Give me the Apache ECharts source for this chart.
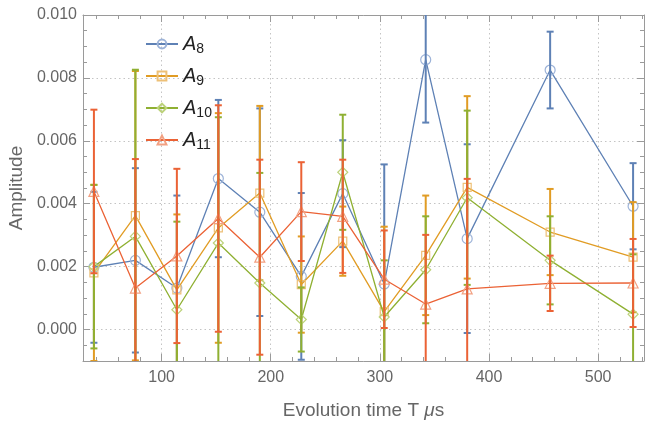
<!DOCTYPE html>
<html>
<head>
<meta charset="utf-8">
<script src="https://cdn.jsdelivr.net/npm/echarts@6/dist/echarts.min.js"></script>
<style>html,body{margin:0;padding:0;background:#fff}#c{width:654px;height:421px}</style>
</head>
<body>
<div id="c"></div>
<script>
// ---- data ----
const seriesNames = ['A8', 'A9', 'A10', 'A11'];
const xValues = [38, 76, 114, 152, 190, 228, 266, 304, 342, 380, 456, 532];
const a8    = [0.00198, 0.0022, 0.00132, 0.0048, 0.00373, 0.00169, 0.00432, 0.00145, 0.00858, 0.00289, 0.00825, 0.00392];
const a8Err = [0.0024, 0.00293, 0.00294, 0.0025, 0.0033, 0.00265, 0.0017, 0.0038, 0.002, 0.003, 0.00122, 0.00137];
const a9    = [0.0018, 0.00362, 0.00126, 0.00323, 0.00434, 0.00143, 0.00281, 0.00057, 0.00236, 0.00452, 0.0031, 0.0023];
const a9Err = [0.0028, 0.0046, 0.0024, 0.00365, 0.00277, 0.00153, 0.0011, 0.0027, 0.0019, 0.0029, 0.00137, 0.00175];
const a10    = [0.0020, 0.00296, 0.00063, 0.00275, 0.00148, 0.00032, 0.005, 0.0004, 0.0019, 0.00419, 0.0022, 0.00049];
const a10Err = [0.0026, 0.0053, 0.0028, 0.004, 0.0035, 0.00102, 0.00183, 0.0018, 0.0017, 0.00277, 0.0014, 0.0019];
const a11    = [0.00439, 0.00132, 0.00234, 0.00353, 0.0023, 0.00375, 0.0036, 0.0016, 0.00081, 0.00129, 0.00147, 0.00148];
const a11Err = [0.0026, 0.0041, 0.00277, 0.0036, 0.0031, 0.00157, 0.0018, 0.00155, 0.0022, 0.0035, 0.00088, 0.0014];
const xTitle = 'Evolution time T {i|\u03bc}s';
const yTitle = 'Amplitude';

// ---- styling ----
const lineColors = ['#5E81B5', '#E19C24', '#8FB032', '#EB6235'];
const markColors = ['#9DB3D8', '#EDC077', '#BCD27A', '#F2A183'];
const symbols = ['circle', 'rect', 'diamond', 'triangle'];
const symbolSizes = [10, 8, 10, 10];
const values = [a8, a9, a10, a11];
const errs = [a8Err, a9Err, a10Err, a11Err];

function errRenderer(color) {
  return function (params, api) {
    const x = api.value(0), lo = api.value(1), hi = api.value(2);
    const p1 = api.coord([x, lo]), p2 = api.coord([x, hi]);
    const w = 3.5;
    const style = { stroke: color, lineWidth: 2, fill: null };
    return {
      type: 'group',
      children: [
        { type: 'line', shape: { x1: p1[0], y1: p1[1], x2: p2[0], y2: p2[1] }, style: style },
        { type: 'line', shape: { x1: p1[0] - w, y1: p1[1], x2: p1[0] + w, y2: p1[1] }, style: style },
        { type: 'line', shape: { x1: p2[0] - w, y1: p2[1], x2: p2[0] + w, y2: p2[1] }, style: style }
      ]
    };
  };
}

const series = [];
seriesNames.forEach(function (name, k) {
  series.push({
    name: name,
    type: 'line',
    data: xValues.map(function (x, i) { return [x, values[k][i]]; }),
    symbol: symbols[k],
    symbolSize: symbolSizes[k],
    showAllSymbol: true,
    lineStyle: { color: lineColors[k], width: 1.3 },
    itemStyle: { color: 'rgba(0,0,0,0)', borderColor: markColors[k], borderWidth: 1.2 },
    emphasis: { disabled: true },
    animation: false,
    z: 2 + k * 2
  });
  series.push({
    name: name + ' err',
    type: 'custom',
    clip: true,
    renderItem: errRenderer(lineColors[k]),
    encode: { x: 0, y: [1, 2] },
    data: xValues.map(function (x, i) { return [x, values[k][i] - errs[k][i], values[k][i] + errs[k][i]]; }),
    animation: false,
    silent: true,
    z: 3 + k * 2
  });
});

const frameColor = '#9a9a9a';
const labelColor = '#666';
const fontFam = '"Liberation Sans", Arial, sans-serif';

function xAx(pos, show) {
  return {
    type: 'value', position: pos, min: 28, max: 542, splitNumber: 5,
    axisLine: { show: true, onZero: false, lineStyle: { color: frameColor, width: 1 } },
    axisTick: { show: true, inside: true, length: 7, lineStyle: { color: frameColor } },
    minorTick: { show: true, splitNumber: 5, length: 4, lineStyle: { color: frameColor } },
    axisLabel: { show: show, showMinLabel: false, showMaxLabel: false, color: labelColor, fontSize: 16, fontFamily: fontFam, margin: 9 },
    splitLine: { show: show, lineStyle: { color: '#c4c4c4', type: [1.5, 3], width: 1 } },
    name: show ? xTitle : '', nameLocation: 'middle', nameGap: 40,
    nameTextStyle: { color: labelColor, fontSize: 19, fontFamily: fontFam,
      rich: { i: { fontStyle: 'italic', color: labelColor, fontSize: 19, fontFamily: fontFam } } }
  };
}
function yAx(pos, show) {
  return {
    type: 'value', position: pos, min: -0.001, max: 0.010, splitNumber: 5,
    axisLine: { show: true, onZero: false, lineStyle: { color: frameColor, width: 1 } },
    axisTick: { show: true, inside: true, length: 7, lineStyle: { color: frameColor } },
    minorTick: { show: true, splitNumber: 4, length: 4, lineStyle: { color: frameColor } },
    axisLabel: { show: show, showMinLabel: false, color: labelColor, fontSize: 16, fontFamily: fontFam, margin: 6,
      formatter: function (v) { return v.toFixed(3); } },
    splitLine: { show: show, lineStyle: { color: '#c4c4c4', type: [1.5, 3], width: 1 } },
    name: show ? yTitle : '', nameLocation: 'middle', nameGap: 56,
    nameTextStyle: { color: labelColor, fontSize: 19, fontFamily: fontFam }
  };
}

const chart = echarts.init(document.getElementById('c'), null, { renderer: 'canvas' });
chart.setOption({
  backgroundColor: '#fff',
  animation: false,
  grid: { left: 83, right: 10, top: 15, bottom: 60, containLabel: false, outerBoundsMode: 'none' },
  xAxis: [xAx('bottom', true), xAx('top', false)],
  yAxis: [yAx('left', true), yAx('right', false)],
  legend: {
    data: seriesNames,
    orient: 'vertical',
    left: 140, top: 29,
    itemWidth: 32, itemHeight: 11, itemGap: 10,
    selectedMode: false,
    formatter: function (n) { return '{a|A}{s|' + n.slice(1) + '}'; },
    textStyle: {
      color: '#222',
      rich: {
        a: { fontSize: 20, fontStyle: 'italic', fontFamily: fontFam, color: '#222' },
        s: { fontSize: 14, fontFamily: fontFam, color: '#222', padding: [10, 0, 0, 0] }
      }
    }
  },
  series: series
});
</script>
</body>
</html>
